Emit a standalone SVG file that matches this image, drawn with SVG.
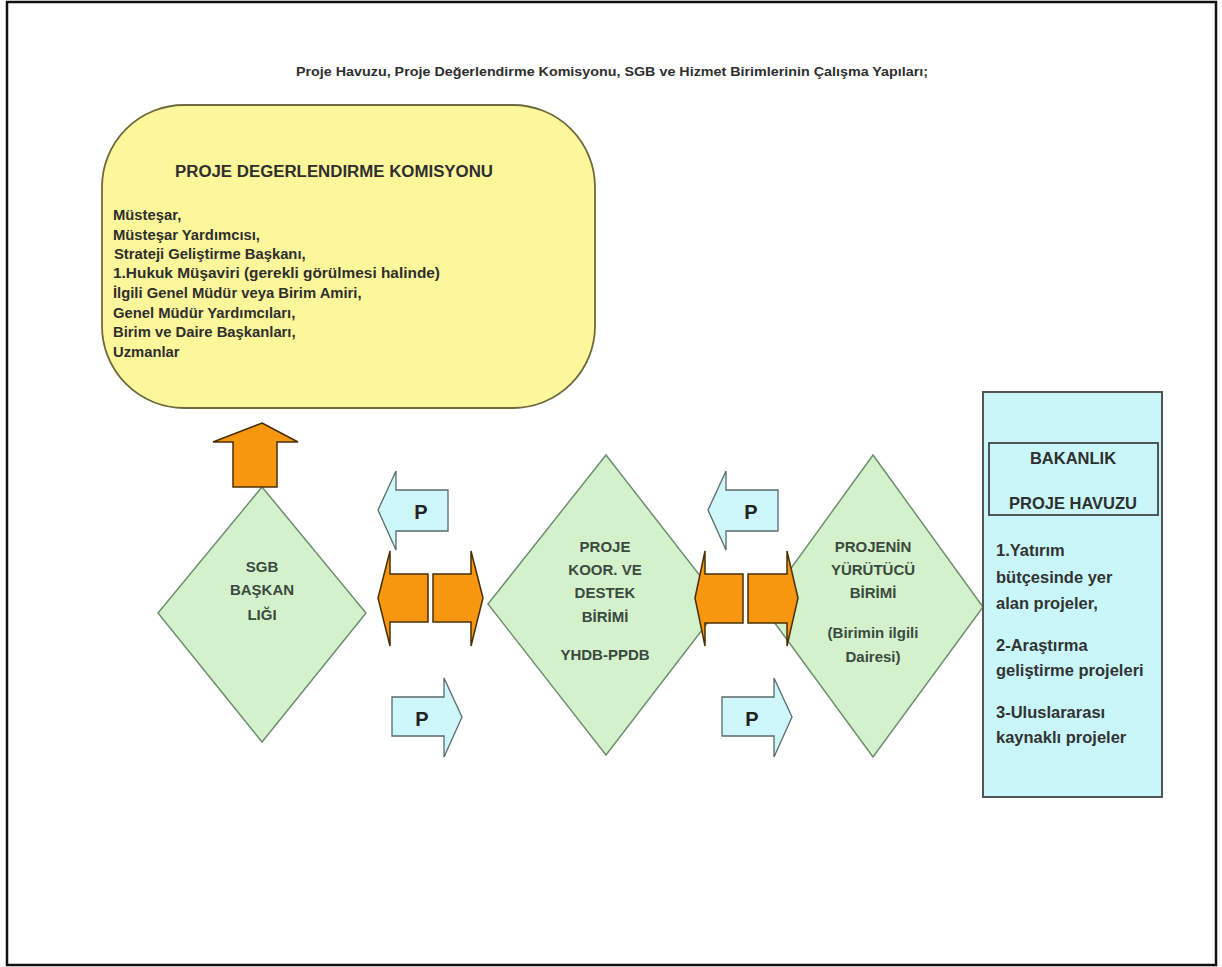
<svg xmlns="http://www.w3.org/2000/svg" width="1222" height="967" viewBox="0 0 1222 967">
<style>
text{font-family:"Liberation Sans",Arial,sans-serif;font-weight:bold;fill:#2f2f2f}
.dia{fill:#d3f2cc;stroke:#6f8f6f;stroke-width:1.5}
.dt{font-size:15px;text-anchor:middle;fill:#3a4a3e}
.org{fill:#f7960f;stroke:#4a3000;stroke-width:1.5}
.pa{fill:#cdf7fb;stroke:#5a6a6a;stroke-width:1.3}
.p{font-size:20px;text-anchor:middle;fill:#222}
.li{font-size:14.8px}
.bl{font-size:16.5px;fill:#333}
</style>
<rect x="0" y="0" width="1222" height="967" fill="#fff"/>
<rect x="7" y="2" width="1209" height="963" fill="none" stroke="#111" stroke-width="2.5"/>
<text x="612" y="76" text-anchor="middle" font-size="12.5" fill="#444" textLength="632" lengthAdjust="spacingAndGlyphs">Proje Havuzu, Proje Değerlendirme Komisyonu, SGB ve Hizmet Birimlerinin Çalışma Yapıları;</text>
<g id="komisyon">
<rect x="102" y="105" width="493" height="303" rx="82" ry="82" fill="#fdf79c" stroke="#6e6a3c" stroke-width="1.8"/>
<text x="334" y="177" text-anchor="middle" font-size="16" textLength="318" lengthAdjust="spacingAndGlyphs">PROJE DEGERLENDIRME KOMISYONU</text>
<text class="li" x="113" y="220">Müsteşar,</text>
<text class="li" x="113" y="240">Müsteşar Yardımcısı,</text>
<text class="li" x="114" y="259">Strateji Geliştirme Başkanı,</text>
<text class="li" x="113" y="278" textLength="327" lengthAdjust="spacingAndGlyphs">1.Hukuk Müşaviri (gerekli görülmesi halinde)</text>
<text class="li" x="113" y="298">İlgili Genel Müdür veya Birim Amiri,</text>
<text class="li" x="113" y="318">Genel Müdür Yardımcıları,</text>
<text class="li" x="113" y="337">Birim ve Daire Başkanları,</text>
<text class="li" x="113" y="357">Uzmanlar</text>
</g>
<g id="sgb">
<polygon class="dia" points="262,487 366,613 262,742 158,613"/>
<text class="dt" x="262" y="572">SGB</text>
<text class="dt" x="262" y="595">BAŞKAN</text>
<text class="dt" x="262" y="620">LIĞI</text>
</g>
<g id="koor">
<polygon class="dia" points="606,455 722,604 606,755 488,604"/>
<text class="dt" x="605" y="552">PROJE</text>
<text class="dt" x="605" y="575">KOOR. VE</text>
<text class="dt" x="605" y="598">DESTEK</text>
<text class="dt" x="605" y="622">BİRİMİ</text>
<text class="dt" x="605" y="660">YHDB-PPDB</text>
</g>
<g id="yurutucu">
<polygon class="dia" points="873,455 983,607 873,757 763,607"/>
<text class="dt" x="873" y="552">PROJENİN</text>
<text class="dt" x="873" y="575">YÜRÜTÜCÜ</text>
<text class="dt" x="873" y="598">BİRİMİ</text>
<text class="dt" x="873" y="638">(Birimin ilgili</text>
<text class="dt" x="873" y="662">Dairesi)</text>
</g>
<g id="havuz">
<rect x="983" y="392" width="179" height="405" fill="#c9f7f9" stroke="#555" stroke-width="2"/>
<rect x="989" y="443" width="169" height="72" fill="#c9f7f9" stroke="#444" stroke-width="1.8"/>
<text x="1073" y="464" text-anchor="middle" font-size="16.5" fill="#333">BAKANLIK</text>
<text x="1073" y="509" text-anchor="middle" font-size="16.5" fill="#333">PROJE HAVUZU</text>
<text class="bl" x="996" y="556">1.Yatırım</text>
<text class="bl" x="996" y="583">bütçesinde yer</text>
<text class="bl" x="996" y="609">alan projeler,</text>
<text class="bl" x="996" y="651">2-Araştırma</text>
<text class="bl" x="996" y="676">geliştirme projeleri</text>
<text class="bl" x="996" y="718">3-Uluslararası</text>
<text class="bl" x="996" y="743">kaynaklı projeler</text>
</g>
<g id="connectors">
<polygon class="org" points="262,423 298,442 277,442 277,487 233,487 233,442 213,442"/>
<polygon class="pa" points="378,510 396,471 396,490 448,490 448,531 396,531 396,550"/>
<text class="p" x="421" y="519">P</text>
<polygon class="pa" points="462,717 444,678 444,697 392,697 392,736 444,736 444,757"/>
<text class="p" x="422" y="726">P</text>
<polygon class="org" points="378,598 390,551 390,574 428,574 428,622 390,622 390,646"/>
<polygon class="org" points="483,598 471,551 471,574 433,574 433,622 471,622 471,646"/>
<polygon class="pa" points="708,510 726,471 726,490 778,490 778,531 726,531 726,550"/>
<text class="p" x="751" y="519">P</text>
<polygon class="pa" points="792,717 774,678 774,697 722,697 722,736 774,736 774,757"/>
<text class="p" x="752" y="726">P</text>
<polygon class="org" points="695,598 705,551 705,574 743,574 743,623 705,623 705,646"/>
<polygon class="org" points="798,598 787,551 787,574 748,574 748,623 787,623 787,646"/>
</g>
</svg>
